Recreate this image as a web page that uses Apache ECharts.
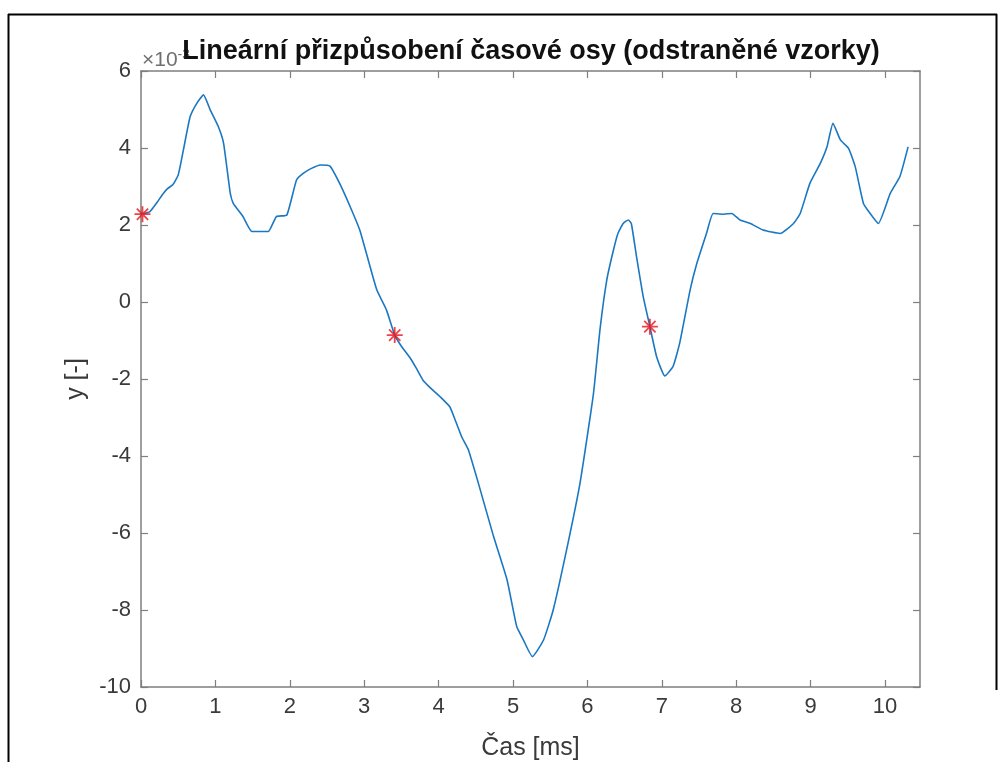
<!DOCTYPE html>
<html>
<head>
<meta charset="utf-8">
<script src="https://cdn.jsdelivr.net/npm/echarts@6/dist/echarts.min.js"></script>
<style>html,body{margin:0;padding:0;background:#fff}#c{width:1005px;height:762px}</style>
</head>
<body>
<div id="c"></div>
<script>
// Signal (values in units of 1e-3)
const timeMs = [0.00,0.12,0.22,0.30,0.36,0.43,0.50,0.57,0.66,0.75,0.84,0.93,1.04,1.11,1.20,1.24,1.37,1.49,1.60,1.71,1.82,1.96,2.09,2.18,2.29,2.41,2.54,2.67,2.81,2.94,3.03,3.17,3.30,3.41,3.50,3.62,3.70,3.79,3.90,4.02,4.15,4.22,4.31,4.40,4.56,4.74,4.92,5.05,5.14,5.26,5.41,5.54,5.72,5.90,6.08,6.17,6.26,6.35,6.41,6.48,6.55,6.59,6.66,6.75,6.84,6.93,7.04,7.15,7.24,7.38,7.47,7.60,7.69,7.83,7.94,8.05,8.19,8.36,8.59,8.77,8.86,8.99,9.13,9.22,9.30,9.40,9.51,9.60,9.71,9.80,9.91,10.07,10.20,10.31];
const yValues = [2.28,2.35,2.60,2.82,2.95,3.05,3.30,3.95,4.81,5.16,5.38,4.99,4.55,4.12,2.82,2.56,2.22,1.83,1.83,1.83,2.22,2.26,3.17,3.34,3.47,3.56,3.53,3.08,2.48,1.87,1.26,0.31,-0.21,-0.86,-1.15,-1.46,-1.72,-2.03,-2.25,-2.46,-2.72,-3.05,-3.50,-3.84,-4.88,-6.10,-7.22,-8.43,-8.78,-9.21,-8.78,-8.00,-6.44,-4.71,-2.40,-0.70,0.57,1.35,1.78,2.04,2.13,2.04,1.18,0.14,-0.64,-1.42,-1.92,-1.68,-1.07,0.31,1.00,1.78,2.30,2.28,2.30,2.13,2.04,1.87,1.78,2.04,2.30,3.08,3.60,4.03,4.64,4.21,3.99,3.51,2.56,2.30,2.04,2.82,3.26,4.03];
// Removed samples (red asterisks)
const removedT = [0.02, 3.41, 6.84];
const removedY = [2.28, -0.86, -0.64];
const xTicks = [0,1,2,3,4,5,6,7,8,9,10];
const yTicks = [-10,-8,-6,-4,-2,0,2,4,6];
const titleText = 'Lineární přizpůsobení časové osy (odstraněné vzorky)';
const xLabel = 'Čas [ms]';
const yLabel = 'y [-]';

const xMin = 0, xMax = 10.47, yMin = -10, yMax = 6;
const axisColor = '#7f7f7f';
const labelColor = '#3a3a3a';
const font = 'Liberation Sans, Arial, Helvetica, sans-serif';

const chart = echarts.init(document.getElementById('c'), null, {renderer: 'canvas'});
const starPath = 'path://M0,-10L0,10M-10,0L10,0M-7.07,-7.07L7.07,7.07M-7.07,7.07L7.07,-7.07';

const option = {
  animation: false,
  backgroundColor: '#fff',
  grid: {left: 141, right: 85, top: 71, bottom: 75, containLabel: false, outerBoundsMode: 'none'},
  xAxis: [{
    type: 'value', min: xMin, max: xMax, interval: 1,
    name: xLabel, nameLocation: 'middle', nameGap: 49,
    nameTextStyle: {fontFamily: font, fontSize: 25, color: labelColor},
    axisLine: {show: true, onZero: false, lineStyle: {color: axisColor, width: 1.5}},
    axisTick: {show: true, inside: true, length: 7, lineStyle: {color: axisColor, width: 1.2},
      customValues: xTicks},
    axisLabel: {fontFamily: font, fontSize: 22, color: labelColor, margin: 9, customValues: xTicks},
    splitLine: {show: false}
  }, {
    type: 'value', position: 'top', min: xMin, max: xMax, interval: 1,
    axisLine: {show: true, onZero: false, lineStyle: {color: axisColor, width: 1.5}},
    axisTick: {show: true, inside: true, length: 7, lineStyle: {color: axisColor, width: 1.2},
      customValues: xTicks},
    axisLabel: {show: false},
    splitLine: {show: false}
  }],
  yAxis: [{
    type: 'value', min: yMin, max: yMax, interval: 2,
    name: yLabel, nameLocation: 'middle', nameGap: 50, nameRotate: 90,
    nameTextStyle: {fontFamily: font, fontSize: 25, color: labelColor},
    axisLine: {show: true, onZero: false, lineStyle: {color: axisColor, width: 1.5}},
    axisTick: {show: true, inside: true, length: 7, lineStyle: {color: axisColor, width: 1.2},
      customValues: yTicks},
    axisLabel: {fontFamily: font, fontSize: 22, color: labelColor, margin: 10, customValues: yTicks},
    splitLine: {show: false}
  }, {
    type: 'value', position: 'right', min: yMin, max: yMax, interval: 2,
    axisLine: {show: true, onZero: false, lineStyle: {color: axisColor, width: 1.5}},
    axisTick: {show: true, inside: true, length: 7, lineStyle: {color: axisColor, width: 1.2},
      customValues: yTicks},
    axisLabel: {show: false},
    splitLine: {show: false}
  }],
  series: [{
    type: 'line',
    data: timeMs.map((t, i) => [t, yValues[i]]),
    showSymbol: false, symbol: 'none',
    smooth: 0.15,
    lineStyle: {color: '#1a78c2', width: 1.6},
    z: 2
  }, {
    type: 'scatter',
    data: removedT.map((t, i) => [t, removedY[i]]),
    symbol: starPath, symbolSize: 16,
    clip: false,
    itemStyle: {color: 'none', borderColor: '#e8141c', borderWidth: 1.8},
    z: 3
  }],
  graphic: [
    {type: 'line', shape: {x1: 8.5, y1: 14, x2: 8.5, y2: 762}, style: {stroke: '#000', lineWidth: 2}},
    {type: 'line', shape: {x1: 8, y1: 14.5, x2: 997, y2: 14.5}, style: {stroke: '#000', lineWidth: 2}},
    {type: 'line', shape: {x1: 996.5, y1: 14, x2: 996.5, y2: 690}, style: {stroke: '#000', lineWidth: 2}},
    {type: 'text', z: 10, style: {x: 142, y: 60, text: '×10{s|-3}', textVerticalAlign: 'middle',
      font: '21px ' + font, fill: '#707070',
      rich: {s: {fontSize: 14, verticalAlign: 'top', padding: [0, 0, 10, 0], fill: '#707070'}}}},
    {type: 'text', z: 20, style: {x: 531, y: 52, text: titleText, textAlign: 'center',
      textVerticalAlign: 'middle', font: 'bold 27px ' + font, fill: '#111'}}
  ]
};
chart.setOption(option);
</script>
</body>
</html>
